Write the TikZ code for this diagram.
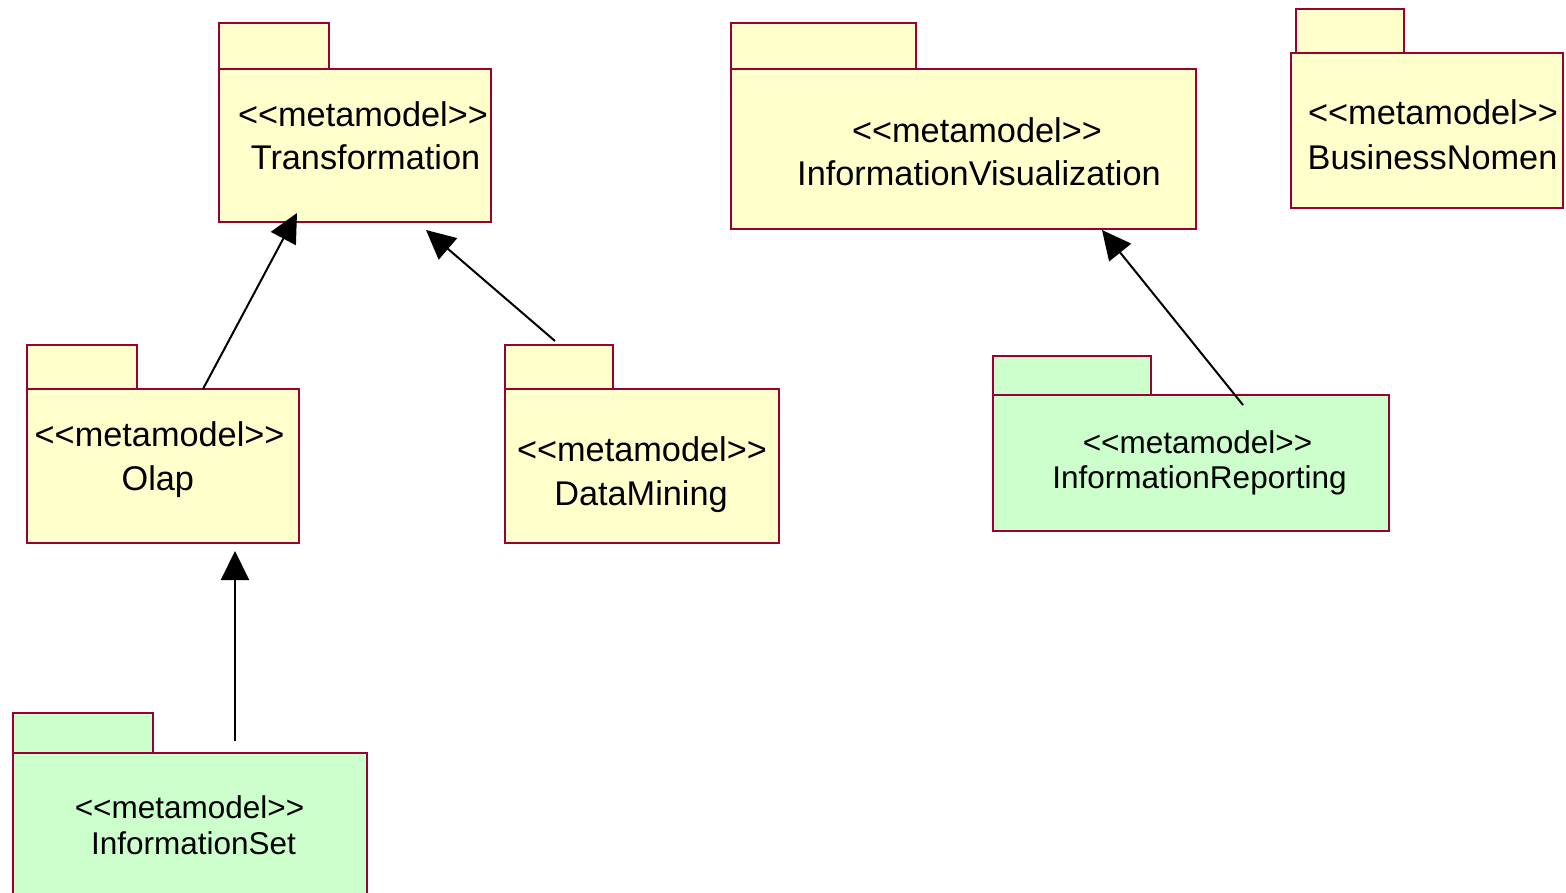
\documentclass[tikz,border=0pt]{standalone}
\usepackage{fontspec}
\setmainfont{Liberation Sans}
\usetikzlibrary{arrows.meta}
\definecolor{pkgred}{RGB}{153,0,51}
\definecolor{pkgyellow}{RGB}{255,255,204}
\definecolor{pkggreen}{RGB}{204,255,204}
\newcommand{\stereo}{<{}<metamodel>{}>}
\begin{document}
\begin{tikzpicture}[x=1pt, y=-1pt,
  pkgline/.style={draw=pkgred, line width=1.5pt, inner sep=0pt, outer sep=0pt},
  yellowpkg/.style={pkgline, fill=pkgyellow, anchor=north west},
  greenpkg/.style={pkgline, fill=pkggreen, anchor=north west},
  tabnode/.style={anchor=south west},
  bigname/.style={anchor=base, font=\fontsize{34.3}{41}\selectfont},
  smallname/.style={anchor=base, font=\fontsize{31.5}{37}\selectfont},
  gen/.style={-{Triangle[length=29pt, width=28pt]}, line width=2pt}]
\useasboundingbox (0,0) rectangle (1566,893);
\clip (0,0) rectangle (1566,893);

\node[yellowpkg, minimum width=272pt, minimum height=153pt] (trans) at (219,69) {};
\node[yellowpkg, tabnode, minimum width=110pt, minimum height=46pt] (transtab) at (trans.north west) {};
\node[bigname] (transst) at (363,127) {\stereo};
\node[bigname] (transname) at (365.5,170) {Transformation};

\node[yellowpkg, minimum width=465pt, minimum height=160pt] (ivis) at (731,69) {};
\node[yellowpkg, tabnode, minimum width=185pt, minimum height=46pt] (ivistab) at (ivis.north west) {};
\node[bigname] (ivisst) at (977,143) {\stereo};
\node[bigname] (ivisname) at (979,185.5) {InformationVisualization};

\node[yellowpkg, minimum width=272pt, minimum height=155pt] (bnom) at (1291,53) {};
\node[yellowpkg, tabnode, minimum width=108pt, minimum height=44pt] (bnomtab) at ([xshift=5pt]bnom.north west) {};
\node[bigname] (bnomst) at (1433,124.5) {\stereo};
\node[bigname] (bnomname) at (1432.5,169.5) {BusinessNomen};

\node[yellowpkg, minimum width=272pt, minimum height=154pt] (olap) at (27,389) {};
\node[yellowpkg, tabnode, minimum width=110pt, minimum height=44pt] (olaptab) at (olap.north west) {};
\node[bigname] (olapst) at (159.6,446.5) {\stereo};
\node[bigname] (olapname) at (157.8,490) {Olap};

\node[yellowpkg, minimum width=274pt, minimum height=154pt] (dm) at (505,389) {};
\node[yellowpkg, tabnode, minimum width=108pt, minimum height=44pt] (dmtab) at (dm.north west) {};
\node[bigname] (dmst) at (642,461.5) {\stereo};
\node[bigname] (dmname) at (641,505.5) {DataMining};

\node[greenpkg, minimum width=396pt, minimum height=136pt] (irep) at (993,395) {};
\node[greenpkg, tabnode, minimum width=158pt, minimum height=39pt] (ireptab) at (irep.north west) {};
\node[smallname] (irepst) at (1197.5,453) {\stereo};
\node[smallname] (irepname) at (1199.5,488) {InformationReporting};

\node[greenpkg, minimum width=354pt, minimum height=160pt] (iset) at (13,753) {};
\node[greenpkg, tabnode, minimum width=140pt, minimum height=40pt] (isettab) at (iset.north west) {};
\node[smallname] (isetst) at (189.5,818) {\stereo};
\node[smallname] (isetname) at (193.5,854) {InformationSet};

\draw[gen] ([xshift=176pt]olap.north west) -- ([xshift=78pt,yshift=9pt]trans.south west);
\draw[gen] ([xshift=50pt,yshift=4pt]dmtab.north west) -- ([xshift=207pt,yshift=-8pt]trans.south west);
\draw[gen] ([xshift=250pt,yshift=-10pt]irep.north west) -- ([xshift=371pt,yshift=-1pt]ivis.south west);
\draw[gen] ([xshift=222pt,yshift=12pt]iset.north west) -- ([xshift=208pt,yshift=-8pt]olap.south west);
\end{tikzpicture}
\end{document}
